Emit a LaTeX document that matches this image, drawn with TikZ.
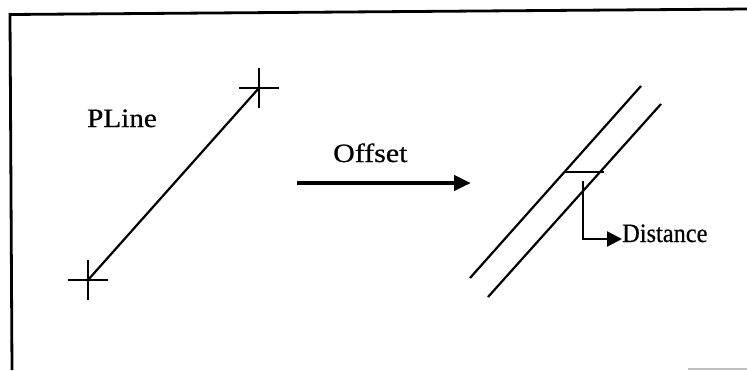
\documentclass[tikz,border=0pt]{standalone}
\usepackage{fontspec}
\setmainfont{Liberation Serif}
\newfontfamily\lblfont[FakeBold=0.6]{Liberation Serif}
\usetikzlibrary{arrows.meta}
\begin{document}
\begin{tikzpicture}[x=1pt,y=-1pt,
  thin line/.style={line width=2.2pt,black},
  frame line/.style={line width=2.8pt,black},
  label text/.style={anchor=base west,inner sep=0pt,font=\lblfont\fontsize{26.5}{26.5}\selectfont},
  cross/.style={line width=2.4pt}]
\useasboundingbox (0,0) rectangle (747,370);
% frame
\coordinate (f1) at (10,14.5);
\coordinate (f2) at (747,9);
\coordinate (f3) at (12,370);
\draw[frame line] (f3) -- (f1) -- (f2);
% scan artefact bottom right
\draw[line width=1.2pt,black!25] (688,369) -- (747,369);
% PLine
\coordinate (p1) at (88,280);
\coordinate (p2) at (259,88);
\draw[thin line] (p1) -- (p2);
\draw[cross] ([xshift=-20pt]p1) -- ([xshift=20pt]p1);
\draw[cross] ([yshift=-20pt]p1) -- ([yshift=20pt]p1);
\draw[cross] ([xshift=-20pt]p2) -- ([xshift=20pt]p2);
\draw[cross] ([yshift=-20pt]p2) -- ([yshift=20pt]p2);
\node[label text] (pl) at (87,127) {\scalebox{1.1}[1]{PLine}};
% Offset arrow
\coordinate (oa) at (297,183);
\coordinate (ob) at (471,183);
\draw[line width=4.5pt,-{Triangle[length=17pt,width=15pt]}] (oa) -- (ob);
\node[label text] (off) at (333,162) {\scalebox{1.13}[1]{Offset}};
% offset lines
\coordinate (l1a) at (470,278);
\coordinate (l1b) at (641,86);
\coordinate (l2a) at (488,297);
\coordinate (l2b) at (661,104);
\draw[thin line] (l1a) -- (l1b);
\draw[thin line] (l2a) -- (l2b);
% distance marker
\coordinate (d1) at (564,172);
\coordinate (d2) at (604,172);
\draw[thin line] (d1) -- (d2);
\coordinate (v1) at (583,181);
\node[label text] (dist) at (622,242) {\scalebox{0.92}[1]{Distance}};
\draw[line width=2.2pt,-{Triangle[length=15pt,width=15pt]}] (v1) |- (dist.west |- 0,239);
\end{tikzpicture}
\end{document}
